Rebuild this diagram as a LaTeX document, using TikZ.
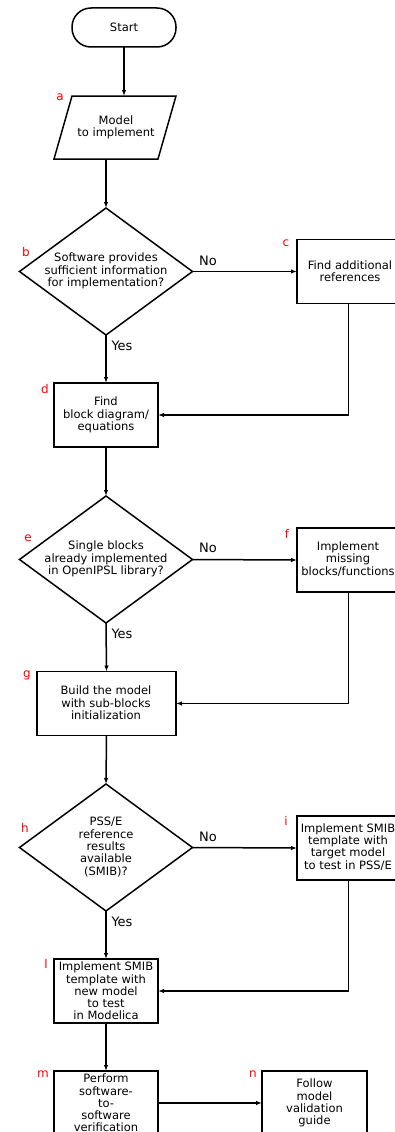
\documentclass[tikz,border=0pt]{standalone}
\usepackage{fontspec}
\setmainfont{DejaVu Sans}
\usetikzlibrary{shapes.geometric,arrows.meta}
\begin{document}
\begin{tikzpicture}[x=1pt,y=-1pt,
  every node/.style={inner sep=0pt,outer sep=0pt},
  ln/.style={line width=1.5pt,line join=miter},
  arr/.style={ln,-{Latex[length=6pt,width=4.5pt]}},
  box/.style={draw,ln,rectangle,minimum width=#1,minimum height=64pt},
  box/.default=104pt,
  dia/.style={draw,ln,diamond,minimum width=173pt,minimum height=127pt},
  txt/.style={align=center,font=\fontsize{11.5}{12.3}\selectfont},
  yn/.style={font=\fontsize{13}{14}\selectfont},
  lab/.style={text=red,font=\fontsize{12}{13}\selectfont}
]
\path[use as bounding box] (0,0) rectangle (395,1132);
\clip (0,0) rectangle (395,1132);

% Start
\node[draw,ln,rounded corners=19pt,minimum width=104pt,minimum height=39pt,txt] (start) at (124,27.5) {Start};

% a: parallelogram
\coordinate (aTL) at (72,96);
\coordinate (aTR) at (176,96);
\coordinate (aBR) at (158,159);
\coordinate (aBL) at (54,159);
\draw[ln] (aTL) -- (aTR) -- (aBR) -- (aBL) -- cycle;
\node[txt] (a) at (116,127.5) {Model\\to implement};
\coordinate (atop) at (124,96);
\coordinate (abot) at (106,159);
\node[lab] (la) at (60,97) {a};

% b
\node[dia] (b) at (106,271.5) {};
\node[txt] (bt) at (106,271) {Software provides\\sufficient information\\for implementation?};
\node[lab] (lb) at (26,252) {b};

% c
\node[box=103pt] (c) at (348.5,271.5) {};
\node[txt] (ct) at (350,271) {Find additional\\references};
\node[lab] (lc) at (286,243) {c};

% d
\node[box] (d) at (106,415) {};
\node[txt] (dt) at (106,415) {Find\\block diagram/\\equations};
\node[lab] (ld) at (45,389) {d};

% e
\node[dia] (e) at (106,559.5) {};
\node[txt] (et) at (106,559) {Single blocks\\already implemented\\in OpenIPSL library?};
\node[lab] (le) at (28,538) {e};

% f
\node[box=103pt] (f) at (348.5,560) {};
\node[txt] (ft) at (348,559) {Implement\\missing\\blocks/functions};
\node[lab] (lf) at (287,534) {f};

% g
\node[box=139pt] (g) at (106.5,703.5) {};
\node[txt] (gt) at (106,703) {Build the model\\with sub-blocks\\initialization};
\node[lab] (lg) at (27,675) {g};

% h
\node[dia] (h) at (106,847.5) {};
\node[txt] (ht) at (106,847) {PSS/E\\reference\\results\\available\\(SMIB)?};
\node[lab] (lh) at (25,828) {h};

% i
\node[box=103pt] (i) at (348.5,848) {};
\node[txt] (it) at (348,847) {Implement SMIB\\template with\\target model\\to test in PSS/E};
\node[lab] (li) at (286,821) {i};

% l
\node[box] (l) at (106,991) {};
\node[txt] (lt) at (106,991) {Implement SMIB\\template with\\new model\\to test\\in Modelica};
\node[lab] (ll) at (46,964) {l};

% m
\node[box] (m) at (106,1103) {};
\node[txt] (mt) at (106,1103) {Perform\\software-\\to-\\software\\verification};
\node[lab] (lm) at (43,1074) {m};

% n
\node[box=105pt] (n) at (314.5,1103) {};
\node[txt] (nt) at (314.5,1103) {Follow\\model\\validation\\guide};
\node[lab] (ln) at (253,1074) {n};

% Yes / No
\node[yn] (no1) at (208,261) {No};
\node[yn] (yes1) at (122,346) {Yes};
\node[yn] (no2) at (208,548) {No};
\node[yn] (yes2) at (122,634) {Yes};
\node[yn] (no3) at (208,837) {No};
\node[yn] (yes3) at (122,922) {Yes};

% connectors
\draw[arr] (start.south) -- (atop);
\draw[arr] (abot) -- (b.north);
\draw[arr] (b.east) -- (c.west);
\draw[arr] (b.south) -- (d.north);
\draw[arr] (c.south) |- (d.east);
\draw[arr] (d.south) -- (e.north);
\draw[arr] (e.east) -- (f.west);
\draw[arr] (e.south) -- (g.north);
\draw[arr] (f.south) |- (g.east);
\draw[arr] (g.south) -- (h.north);
\draw[arr] (h.east) -- (i.west);
\draw[arr] (h.south) -- (l.north);
\draw[arr] (i.south) |- (l.east);
\draw[arr] (l.south) -- (m.north);
\draw[arr] (m.east) -- (n.west);
\end{tikzpicture}
\end{document}
